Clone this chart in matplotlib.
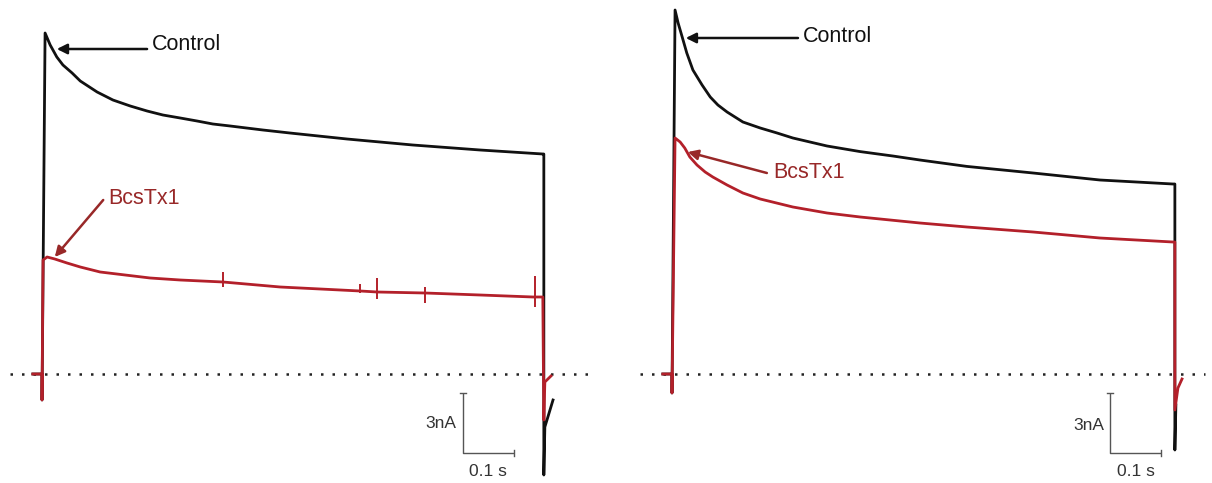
import matplotlib
matplotlib.use("Agg")
import matplotlib.pyplot as plt

plt.rcParams['font.family'] = ['Liberation Sans', 'DejaVu Sans']

# ---- Panel A: time (s) and current (nA) ----
a_ctrl_t = [-0.018, 0.0, 0.0, 0.006, 0.016, 0.029, 0.041, 0.059, 0.075, 0.090, 0.108,
            0.139, 0.173, 0.206, 0.237, 0.271, 0.304, 0.335, 0.369, 0.433, 0.486,
            0.598, 0.727, 0.859, 0.982, 0.984, 0.984, 0.986, 1.002]
a_ctrl_i = [0.0, 0.0, -1.3, 17.05, 16.45, 15.85, 15.45, 15.05, 14.65, 14.4, 14.1,
            13.7, 13.4, 13.15, 12.95, 12.8, 12.65, 12.5, 12.4, 12.2, 12.05,
            11.75, 11.45, 11.2, 11.0, 11.0, -5.05, -2.65, -1.3]

a_tx_t = [-0.018, 0.0, 0.0, 0.002, 0.010, 0.025, 0.049, 0.075, 0.114, 0.163, 0.212,
          0.271, 0.355, 0.467, 0.624, 0.657, 0.751, 0.859, 0.963, 0.982, 0.984,
          0.986, 0.998]
a_tx_i = [0.0, 0.0, -1.3, 5.7, 5.85, 5.75, 5.55, 5.35, 5.1, 4.95, 4.8,
          4.7, 4.6, 4.35, 4.15, 4.1, 4.05, 3.95, 3.85, 3.85, -2.3,
          -0.4, -0.1]

# brief artefacts on the toxin trace
a_art_t = [0.355, 0.624, 0.657, 0.751, 0.967]
a_art_hi = [5.1, 4.5, 4.8, 4.35, 4.9]
a_art_lo = [4.35, 4.05, 3.75, 3.55, 3.35]

# ---- Panel B ----
b_ctrl_t = [-0.018, 0.0, 0.0, 0.006, 0.012, 0.020, 0.029, 0.041, 0.059, 0.075, 0.090,
            0.108, 0.139, 0.173, 0.206, 0.237, 0.304, 0.369, 0.433, 0.486, 0.578,
            0.708, 0.839, 0.982, 0.986, 0.986, 0.988]
b_ctrl_i = [0.0, 0.0, -0.95, 18.2, 17.55, 16.85, 16.05, 15.2, 14.45, 13.85, 13.45,
            13.1, 12.6, 12.3, 12.05, 11.8, 11.4, 11.12, 10.9, 10.7, 10.38,
            10.05, 9.7, 9.5, 9.5, -3.8, -1.55]

b_tx_t = [-0.018, 0.0, 0.0, 0.006, 0.016, 0.025, 0.035, 0.049, 0.065, 0.080, 0.108,
          0.139, 0.173, 0.237, 0.304, 0.369, 0.486, 0.578, 0.708, 0.839, 0.982,
          0.986, 0.986, 0.992, 1.0]
b_tx_i = [0.0, 0.0, -0.95, 11.8, 11.6, 11.3, 10.85, 10.45, 10.1, 9.85, 9.45,
          9.05, 8.75, 8.35, 8.05, 7.85, 7.55, 7.35, 7.1, 6.8, 6.6,
          6.6, -1.8, -0.7, -0.25]

labels = ["Control", "BcsTx1"]
bar_current = 3.0   # nA
bar_time = 0.1      # s

BLACK = "#111111"
RED = "#b3202a"
RED_TXT = "#982828"
GREY = "#555555"

fig = plt.figure(figsize=(12.12, 4.83), dpi=100)
ylim = (-5.45, 18.7)

panels = [
    dict(rect=[0.0, 0.0, 0.5, 1.0], xlim=(-0.0824, 1.1059),
         ctrl=(a_ctrl_t, a_ctrl_i), tx=(a_tx_t, a_tx_i),
         art=(a_art_t, a_art_hi, a_art_lo), base=(-0.063, 1.075),
         ctrl_arrow=((0.029, 16.25), (0.206, 16.25)), ctrl_txt=(0.216, 16.45),
         tx_arrow=((0.025, 5.85), (0.120, 8.7)), tx_txt=(0.129, 8.8),
         bar=(0.825, -3.95), bar_lbl=((0.813, -2.5), (0.875, -4.85))),
    dict(rect=[0.5, 0.0, 0.5, 1.0], xlim=(-0.1294, 1.0588),
         ctrl=(b_ctrl_t, b_ctrl_i), tx=(b_tx_t, b_tx_i),
         art=None, base=(-0.063, 1.045),
         ctrl_arrow=((0.027, 16.8), (0.247, 16.8)), ctrl_txt=(0.257, 16.85),
         tx_arrow=((0.031, 11.1), (0.186, 10.05)), tx_txt=(0.198, 10.05),
         bar=(0.859, -3.95), bar_lbl=((0.847, -2.6), (0.909, -4.9))),
]

for p in panels:
    ax = fig.add_axes(p["rect"])
    ax.set_xlim(*p["xlim"])
    ax.set_ylim(*ylim)
    ax.axis("off")

    # zero-current reference
    ax.plot(p["base"], [0, 0], color="#222222", lw=1.8,
            linestyle=(0, (1, 3.6)), dash_capstyle="butt", zorder=1)

    ax.plot(*p["ctrl"], color=BLACK, lw=2.0, zorder=2, solid_joinstyle="round")
    ax.plot(*p["tx"], color=RED, lw=2.0, zorder=3, solid_joinstyle="round")
    if p["art"] is not None:
        t, hi, lo = p["art"]
        ax.vlines(t, lo, hi, color=RED, lw=1.4, zorder=3)

    # labels with arrows
    (hx, hy), (tx, ty) = p["ctrl_arrow"]
    ax.annotate("", xy=(hx, hy), xytext=(tx, ty),
                arrowprops=dict(arrowstyle="-|>", color=BLACK, lw=1.8,
                                mutation_scale=15, shrinkA=0, shrinkB=0))
    ax.text(*p["ctrl_txt"], labels[0], ha="left", va="center",
            fontsize=15.5, color=BLACK)
    (hx, hy), (tx, ty) = p["tx_arrow"]
    ax.annotate("", xy=(hx, hy), xytext=(tx, ty),
                arrowprops=dict(arrowstyle="-|>", color=RED_TXT, lw=1.8,
                                mutation_scale=15, shrinkA=0, shrinkB=0))
    ax.text(*p["tx_txt"], labels[1], ha="left", va="center",
            fontsize=15.5, color=RED_TXT)

    # scale bar
    bx, by = p["bar"]
    ax.plot([bx, bx, bx + bar_time], [by + bar_current, by, by],
            color=GREY, lw=1.0, solid_capstyle="butt")
    ax.plot([bx - 0.006, bx + 0.006], [by + bar_current] * 2, color=GREY, lw=1.0)
    ax.plot([bx + bar_time] * 2, [by - 0.15, by + 0.15], color=GREY, lw=1.0)
    (lx, ly), (sx, sy) = p["bar_lbl"]
    ax.text(lx, ly, "3nA", ha="right", va="center", fontsize=12.5, color="#333333")
    ax.text(sx, sy, "0.1 s", ha="center", va="center", fontsize=12.5, color="#333333")

fig.savefig("out.png", dpi=100)
